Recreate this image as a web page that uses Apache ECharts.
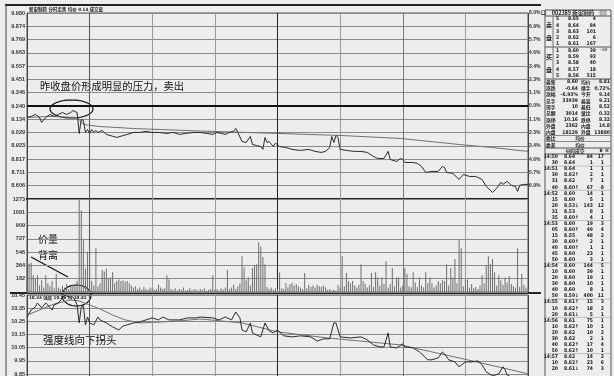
<!DOCTYPE html>
<html><head><meta charset="utf-8">
<script src="https://cdn.jsdelivr.net/npm/echarts@6/dist/echarts.min.js"></script>
<style>html,body{margin:0;padding:0;background:#ededed}#c{width:614px;height:376px}</style>
</head><body><div id="c"></div>
<script>
// ---------- data ----------
const prevClose = 9.24;
const priceTickLabels = ['', '8.606','8.711','8.817','8.923','9.029','9.134','9.240','9.346','9.451','9.557','9.663','9.769','9.874','9.980'];
const pctTickLabels = ['', '6.9%','5.7%','4.6%','3.4%','2.3%','1.1%','0.0%','1.1%','2.3%','3.4%','4.6%','5.7%','6.9%','8.0%'];
const volTickLabels = ['', '182','364','546','727','909','1091','1273'];
const strengthTickLabels = ['9.75','9.85','9.95','10.05','10.15','10.25','10.35','10.45'];

const priceMinutes = [0,2,4,6,7,9,11,13,15,17,19,21,22,23,24,25,26,27,28,29,30,31,32,33,34,36,38,41,43,45,48,51,54,57,60,63,67,70,73,76,80,83,86,89,91,93,95,97,99,100,101,103,105,107,108,110,112,113,114,115,116,118,119,121,124,127,131,135,138,141,143,145,146,147,148,149,150,153,157,160,163,166,168,171,173,174,177,179,180,181,185,187,189,191,194,197,199,200,201,204,205,207,209,212,215,218,220,223,225,227,228,230,232,234,235,236,238,240];
const prices = [9.149,9.157,9.173,9.149,9.109,9.149,9.173,9.157,9.173,9.188,9.173,9.188,9.204,9.196,9.188,9.022,9.133,9.125,9.030,9.053,9.022,9.053,9.030,9.045,9.030,9.045,9.014,9.000,8.990,9.000,9.014,9.030,9.030,9.038,9.030,9.030,9.022,9.030,9.014,9.022,9.030,9.030,9.022,9.014,9.030,9.022,9.014,9.030,9.038,9.061,9.030,8.958,8.950,8.998,8.934,8.926,8.918,8.895,8.990,8.950,8.958,8.918,8.945,8.918,8.910,8.895,8.887,8.895,8.879,8.871,8.879,8.910,8.998,8.950,9.006,8.990,8.895,8.887,8.879,8.879,8.871,8.839,8.823,8.823,8.879,8.815,8.799,8.823,8.815,8.791,8.791,8.783,8.760,8.712,8.720,8.720,8.760,8.752,8.712,8.704,8.688,8.656,8.696,8.680,8.680,8.656,8.601,8.553,8.585,8.633,8.617,8.641,8.609,8.601,8.561,8.609,8.617,8.617];

const avgMinutes = [0,11,24,27,35,51,83,120,150,179,207,223,240];
const avgPrices = [9.149,9.157,9.149,9.093,9.077,9.061,9.041,9.022,9.006,8.982,8.934,8.910,8.879];

// volume per minute (0..240)
const volumes = [420,390,400,230,180,230,90,160,60,230,120,80,150,50,250,60,40,90,60,110,40,70,90,100,150,1273,1120,710,320,550,600,150,90,600,80,120,300,280,320,190,200,270,120,150,170,150,160,140,150,120,90,60,80,40,60,30,70,40,30,60,50,30,40,100,60,40,50,230,170,40,30,50,20,40,30,60,20,30,50,20,40,30,20,40,30,50,20,30,40,230,30,40,20,50,30,60,300,40,60,100,40,80,120,490,340,160,200,90,330,370,380,680,620,480,380,70,40,60,30,50,40,270,50,40,120,60,110,120,90,110,80,60,40,260,50,100,70,90,60,100,80,70,90,60,30,40,20,30,20,100,60,490,80,260,150,120,150,90,60,100,380,150,110,60,90,260,70,270,200,90,200,110,420,60,110,330,80,200,200,60,90,330,250,80,60,270,130,70,200,90,60,270,120,200,120,60,90,150,120,160,150,380,90,330,200,450,120,710,600,80,170,170,60,110,50,70,40,90,230,120,370,490,380,450,270,90,230,160,100,200,130,220,110,80,60,600,70,250,100,60,40];

const strengthMinutes = [0,2,4,5,7,9,10,12,13,15,17,18,20,22,23,24,25,26,27,28,29,30,32,34,35,38,41,44,46,48,51,54,57,60,63,65,68,73,77,81,83,89,92,95,98,100,102,103,105,107,108,112,114,116,118,120,123,127,131,136,139,142,145,147,148,150,155,160,163,166,169,171,173,174,177,180,181,185,188,192,194,197,199,200,202,205,207,210,213,216,218,220,223,226,228,229,230,234,236,240];
const strengthVals = [10.283,10.336,10.359,10.389,10.352,10.389,10.374,10.336,10.374,10.389,10.427,10.450,10.435,10.435,10.412,10.374,10.238,10.359,10.367,10.223,10.283,10.238,10.223,10.283,10.261,10.238,10.208,10.185,10.215,10.223,10.238,10.245,10.261,10.276,10.261,10.283,10.261,10.261,10.276,10.276,10.283,10.276,10.261,10.283,10.261,10.321,10.276,10.185,10.170,10.238,10.162,10.132,10.238,10.177,10.162,10.185,10.140,10.132,10.140,10.132,10.100,10.117,10.117,10.238,10.238,10.132,10.124,10.132,10.109,10.071,10.056,10.056,10.162,10.056,10.048,10.079,10.056,10.048,10.018,9.958,9.958,9.973,10.018,10.003,9.958,9.942,9.905,9.942,9.942,9.950,9.920,9.867,9.836,9.852,9.905,9.882,9.844,9.806,9.820,9.810];
const strengthAvgMinutes = [0,6,13,21,25,30,35,41,47,54,64,73,83,103,120,144,179,211,240];
const strengthAvgVals = [10.298,10.336,10.382,10.412,10.405,10.374,10.344,10.298,10.261,10.238,10.245,10.253,10.268,10.238,10.170,10.124,10.071,9.958,9.852];

// right-hand quote panel
const quoteTitle = '002389 新宙制药';
const sellLevels = [['5','8.65','4'],['4','8.64','84'],['3','8.63','101'],['2','8.62','6'],['1','8.61','167']];
const buyLevels = [['1','8.60','39'],['2','8.59','93'],['3','8.58','40'],['4','8.57','18'],['5','8.56','315']];
const statRows = [['最新','8.60','均价','8.81'],['涨跌','-0.64','换手','0.72%'],['涨幅','-6.93%','今开','9.14'],['总手','33939','最高','9.21'],['现手','10','最低','8.52'],['总额','3014','量比','0.32'],['涨停','10.16','跌停','8.32'],['外盘','2362','内盘','14.8'],['内盘','18129','外盘','13880']];
const noteRows = [['委比','均价'],['委差','均价']];
const tickRows = [['14:50','8.64','84','17'],['30','8.64','1','1'],['14:51','8.64','1','1'],['30','8.62↑','2','1'],['31','8.62','7','1'],['40','8.60↑','67','8'],['14:52','8.60','14','1'],['15','8.60','5','1'],['20','8.53↓','143','12'],['31','8.53','8','1'],['35','8.60↑','4','1'],['14:53','8.60','19','3'],['05','8.60↑','49','4'],['15','8.55','48','2'],['30','8.60↑','2','1'],['40','8.60↑','1','1'],['45','8.60','23','1'],['50','8.60','3','1'],['14:54','8.60','144','5'],['10','8.60','39','1'],['20','8.60','19','1'],['30','8.60','10','1'],['40','8.60','8','1'],['50','8.59↓','400','11'],['14:55','8.61↑','15','3'],['10','8.62↑','18','2'],['20','8.61↓','5','1'],['14:56','8.61','75','1'],['10','8.62↑','10','1'],['20','8.62','10','2'],['30','8.62','2','1'],['40','8.62↑','17','4'],['50','8.62↑','10','1'],['14:57','8.62','14','2'],['10','8.62↑','23','6'],['20','8.61↓','74','3']];

// ---------- chart ----------
const chart = echarts.init(document.getElementById('c'), null, {renderer:'canvas'});
const pMin = prevClose*0.92, pMax = prevClose*1.08, pInt = prevClose*0.08/7;
const vMax = 1273, vInt = 1273/7;
const sMin = 9.75, sMax = 10.45, sInt = 0.1;
const lab = (arr, min, int) => (v) => { const i = Math.round((v-min)/int); return arr[i] || ''; };
const labStyle = {fontSize:5.5, fontWeight:'bold', color:'#333', fontFamily:'Liberation Sans', margin:2};
const vColors = ['#444','#555','#9a9a9a','#9a9a9a','#222','#9a9a9a','#777','#9a9a9a','#444'];
function xAx(g){ return {type:'value', gridIndex:g, min:0, max:240, interval:30, axisLabel:{show:false}, axisTick:{show:false}, axisLine:{show:false}, splitLine:{show:true, lineStyle:{color:vColors, width:1}}}; }
const hSplit = {show:true, lineStyle:{color:'#8a8a8a', width:1}};

const F = "'Liberation Sans Narrow','DejaVu Sans Condensed','Liberation Sans','Noto Sans CJK SC'";
const FC = "'Noto Sans CJK SC'";
const g = [];
const T = (x,y,text,opt={}) => g.push({type:'text', silent:true, x, y, style:Object.assign({text, fill:'#222', fontSize:5, fontWeight:'bold', fontFamily:F, align:'left', verticalAlign:'middle'}, opt)});
const L = (x1,y1,x2,y2,stroke='#555',w=1) => g.push({type:'line', silent:true, shape:{x1,y1,x2,y2}, style:{stroke, lineWidth:w}});
function ellipse(cx,cy,rx,ry){ const p=[]; for(let i=0;i<=60;i++){const t=i/60*Math.PI*2; p.push([cx+rx*Math.cos(t), cy+ry*Math.sin(t)]);} g.push({type:'polyline', silent:true, shape:{points:p}, style:{stroke:'#111', lineWidth:1.2, fill:null}}); }

// frame lines
L(5,5,541,5,'#222',2);
L(6,5,6,376,'#444',1);
L(26,199,528,199,'#222',2);
L(10,293,541,293,'#222',2);
// header texts
T(29,10,'新宙制药 分时走势 均价 9.14 成交量',{fontSize:4.5});
T(29,297.5,'10.33 强度 10.36 均 10.41',{fontSize:4.5});

// quote panel
L(545,10,545,376,'#555'); L(611,10,611,376,'#555');
L(545,10,611,10,'#555'); L(545,16,611,16,'#555');
L(545,47,611,47,'#555'); L(545,79,611,79,'#555');
L(545,148,611,148,'#555'); L(545,154,611,154,'#555');
L(553,16,553,79,'#777');
T(541,12,'口',{fontSize:5,fontFamily:FC});
T(573,13,quoteTitle,{align:'center',fontSize:5.5,fontFamily:FC});
g.push({type:'rect',silent:true,shape:{x:600,y:10.5,width:6,height:5},style:{fill:'#bbb',stroke:'#666',lineWidth:0.5}});
T(549,25,'卖',{align:'center',fontSize:6,fontFamily:FC}); T(549,38,'盘',{align:'center',fontSize:6,fontFamily:FC});
T(549,57,'买',{align:'center',fontSize:6,fontFamily:FC}); T(549,70,'盘',{align:'center',fontSize:6,fontFamily:FC});
sellLevels.forEach((r,i)=>{ const y=19+i*6.3; T(556,y,r[0]); T(579,y,r[1],{align:'right'}); T(596,y,r[2],{align:'right'}); });
buyLevels.forEach((r,i)=>{ const y=50.5+i*6.3; T(556,y,r[0]); T(579,y,r[1],{align:'right'}); T(596,y,r[2],{align:'right'}); });
T(600,50,'-10',{fontSize:4.5,fill:'#666'});
statRows.forEach((r,i)=>{ const y=82+i*6.3; T(546,y,r[0],{fontFamily:FC,fontSize:4.8}); T(578,y,r[1],{align:'right'}); T(581,y,r[2],{fontFamily:FC,fontSize:4.8}); T(610,y,r[3],{align:'right'}); });
noteRows.forEach((r,i)=>{ const y=138.5+i*6.3; T(546,y,r[0],{fontFamily:FC,fontSize:4.8}); T(580,y,r[1],{align:'center',fontFamily:FC,fontSize:4.8}); });
L(545,135.5,611,135.5,'#888'); L(545,141.5,611,141.5,'#888');
T(575,151,'分时成交',{align:'center',fontSize:4.8,fontFamily:FC});
T(601,151,'B',{align:'center',fontSize:4.5}); T(607,151,'H',{align:'center',fontSize:4.5});
tickRows.forEach((r,i)=>{ const y=157+i*6.05; if(r[0].indexOf(':')>=0 && i>0) L(545,y-3,611,y-3,'#aaa',0.7); T(558,y,r[0],{align:'right'}); T(564,y,r[1]); T(593,y,r[2],{align:'right'}); T(604,y,r[3],{align:'right'}); });

// annotations
T(40,86,'昨收盘价形成明显的压力，卖出',{fontSize:10.3,fontWeight:'normal',fill:'#111',fontFamily:FC});
ellipse(71.5,109,21.5,9);
T(38,239,'价量',{fontSize:10,fontWeight:'normal',fill:'#111',fontFamily:FC});
T(38,255,'背离',{fontSize:10,fontWeight:'normal',fill:'#111',fontFamily:FC});
L(31,257,68,277,'#111',1.2);
ellipse(76.5,295.5,14.5,10.5);
T(43,340,'强度线向下拐头',{fontSize:10.5,fontWeight:'normal',fill:'#111',fontFamily:FC});

const grid = (top,height) => ({left:27, width:501, top, height, show:true, borderColor:'#555', borderWidth:1, backgroundColor:'transparent', containLabel:false, outerBoundsMode:'none'});

chart.setOption({
  animation:false,
  backgroundColor:'#ededed',
  grid:[grid(13,186), grid(199,93), grid(295,92.2)],
  xAxis:[xAx(0), xAx(1), xAx(2)],
  yAxis:[
    {type:'value', gridIndex:0, min:pMin, max:pMax, interval:pInt, axisLine:{show:false}, axisTick:{show:false}, splitLine:hSplit, axisLabel:Object.assign({formatter:lab(priceTickLabels,pMin,pInt)},labStyle)},
    {type:'value', gridIndex:0, position:'right', min:pMin, max:pMax, interval:pInt, axisLine:{show:false}, axisTick:{show:false}, splitLine:{show:false}, axisLabel:Object.assign({formatter:lab(pctTickLabels,pMin,pInt)},labStyle,{fontSize:5,margin:1})},
    {type:'value', gridIndex:1, min:0, max:vMax, interval:vInt, axisLine:{show:false}, axisTick:{show:false}, splitLine:hSplit, axisLabel:Object.assign({formatter:lab(volTickLabels,0,vInt)},labStyle)},
    {type:'value', gridIndex:2, min:sMin, max:sMax, interval:sInt, axisLine:{show:false}, axisTick:{show:false}, splitLine:hSplit, axisLabel:Object.assign({formatter:lab(strengthTickLabels,sMin,sInt)},labStyle)}
  ],
  series:[
    {type:'line', xAxisIndex:0, yAxisIndex:0, data:priceMinutes.map((m,i)=>[m,prices[i]]), symbol:'none', lineStyle:{color:'#2a2a2a', width:1}, z:5,
     markLine:{silent:true, symbol:'none', label:{show:false}, lineStyle:{color:'#111', width:2, type:'solid'}, data:[{yAxis:prevClose}]}},
    {type:'line', xAxisIndex:0, yAxisIndex:0, data:avgMinutes.map((m,i)=>[m,avgPrices[i]]), symbol:'none', lineStyle:{color:'#707070', width:1}, z:4},
    {type:'bar', xAxisIndex:1, yAxisIndex:2, data:volumes.map((v,i)=>[i,v]), barWidth:1, itemStyle:{color:'#6e6e6e'}},
    {type:'line', xAxisIndex:2, yAxisIndex:3, data:strengthMinutes.map((m,i)=>[m,strengthVals[i]]), symbol:'none', lineStyle:{color:'#2a2a2a', width:1}, z:5},
    {type:'line', xAxisIndex:2, yAxisIndex:3, data:strengthAvgMinutes.map((m,i)=>[m,strengthAvgVals[i]]), symbol:'none', lineStyle:{color:'#707070', width:1}, z:4}
  ],
  graphic:g
});
</script></body></html>
